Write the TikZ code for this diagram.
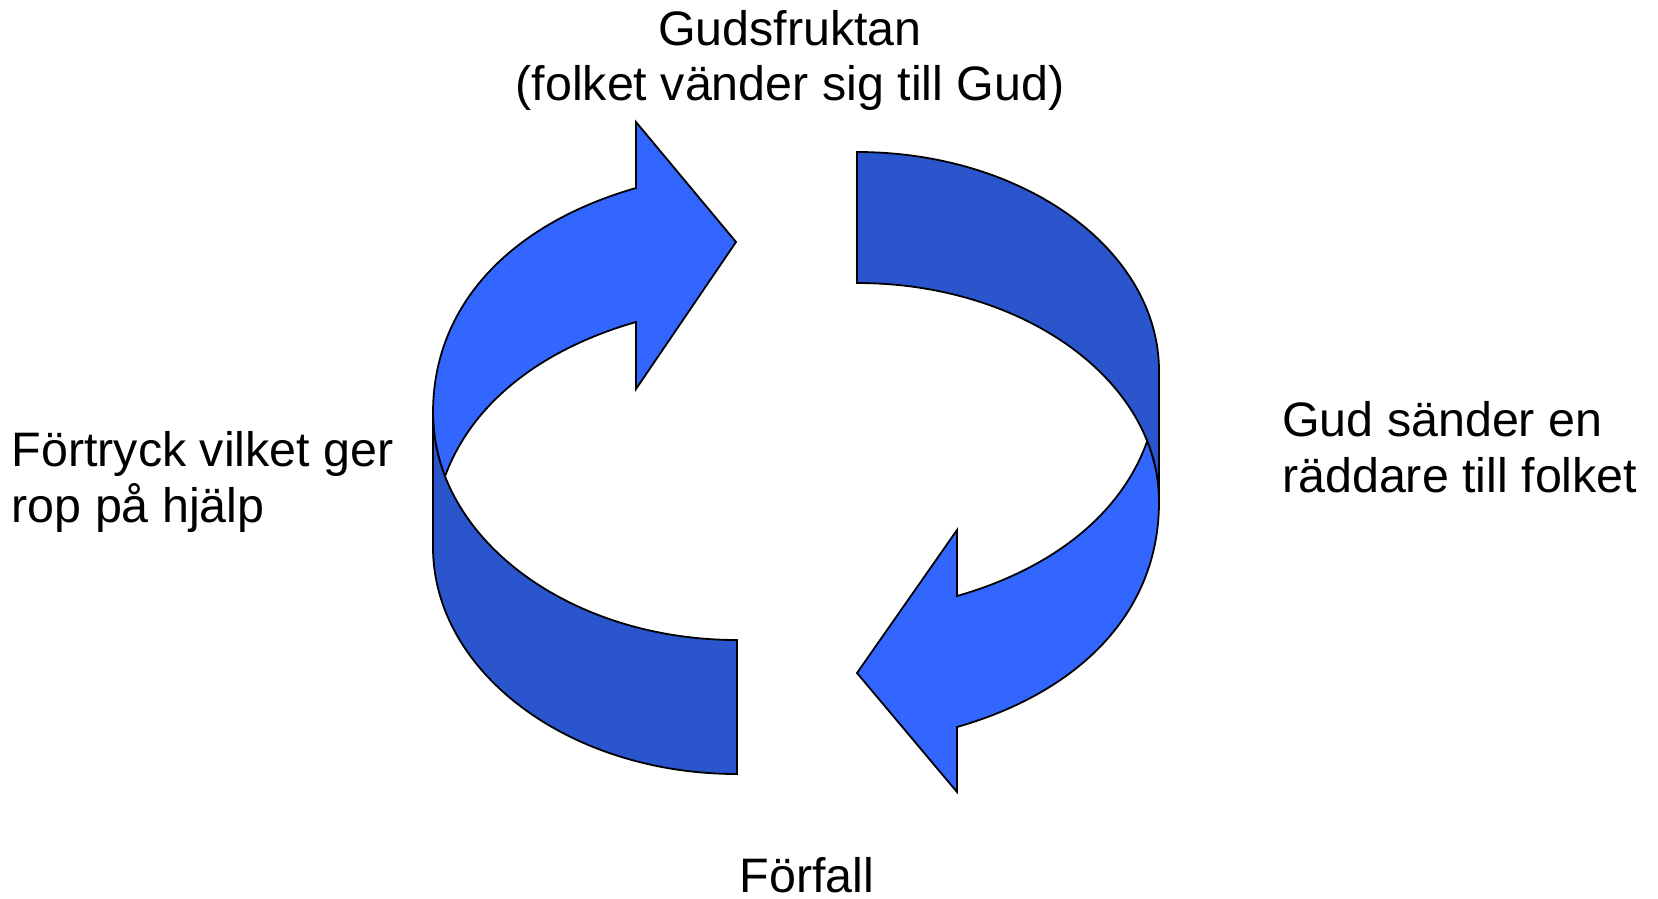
\documentclass[tikz,border=0pt]{standalone}
\usepackage{fontspec}
\setmainfont{Liberation Sans}
\definecolor{arrowlight}{RGB}{51,102,255}
\definecolor{arrowdark}{RGB}{42,85,204}

\begin{document}
\begin{tikzpicture}[
	x=1pt, y=-1pt,
	front/.style={fill=arrowlight, draw=black, line width=1.8pt},
	back/.style={fill=arrowdark, draw=black, line width=1.8pt},
	caption/.style={inner sep=0pt, font=\fontsize{48.4}{55.5}\selectfont}
]

\useasboundingbox (0,0) rectangle (1658,898);

\filldraw[front] (636,188) .. controls (517,222) and (433,300) .. (433,413)
	.. controls (433,435) and (437.2,456.3) .. (445,476.4)
	.. controls (472.5,401.2) and (543.7,348.4) .. (636,322)
	-- (636,389) -- (736,242) -- (636,122) -- cycle;
\filldraw[back] (433,413) -- (433,547) .. controls (433,672) and (569,774) .. (737,774)
	-- (737,640) .. controls (569,640) and (433,538) .. (433,413) -- cycle;

\filldraw[back] (1159,502) -- (1159,371) .. controls (1159,250) and (1024,152) .. (857,152)
	-- (857,283) .. controls (994.9,283) and (1111,349.8) .. (1147.2,441.2)
	.. controls (1154.9,460.5) and (1159,480.9) .. (1159,502) -- cycle;
\filldraw[front] (957,727) .. controls (1076,693) and (1159,615) .. (1159,502)
	.. controls (1159,480.9) and (1154.9,460.5) .. (1147.2,441.2)
	.. controls (1120.2,516.6) and (1049.4,569.6) .. (957,596)
	-- (957,530) -- (857,673) -- (957,792) -- cycle;

\node[caption, align=center, anchor=base] (fear) at (790,100.5) {Gudsfruktan\\(folket vänder sig till Gud)};
\node[caption, align=left, anchor=base west] (saviour) at (1282,492) {Gud sänder en\\räddare till folket};
\node[caption, anchor=base, text depth=0pt] (decay) at (807,892) {Förfall};
\node[caption, align=left, anchor=base west] (oppression) at (11.5,522) {Förtryck vilket ger\\rop på hjälp};

\end{tikzpicture}
\end{document}
